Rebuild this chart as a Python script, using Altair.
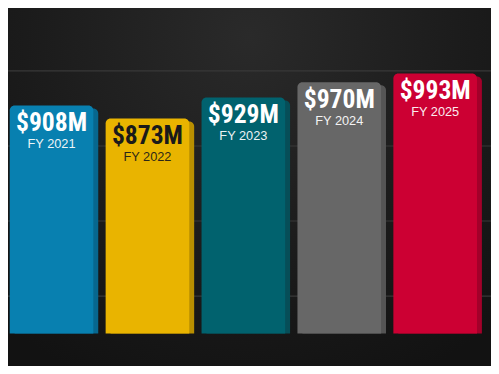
import altair as alt
import pandas as pd

years = ["FY 2021", "FY 2022", "FY 2023", "FY 2024", "FY 2025"]
values = [908, 873, 929, 970, 993]
labels = ["$908M", "$873M", "$929M", "$970M", "$993M"]
face_colors = ["#0880B0", "#E9B400", "#01626E", "#676767", "#CC0033"]
shadow_colors = ["#07678F", "#B98F00", "#064E58", "#555555", "#A3002A"]
text_colors = ["#FFFFFF", "#1A1A1A", "#FFFFFF", "#FFFFFF", "#FFFFFF"]
grid_values = [400, 600, 800, 1000]
y_min, y_max = 300, 1160

df = pd.DataFrame({
    "year": years, "value": values, "label": labels,
    "face": face_colors, "shadow": shadow_colors, "tc": text_colors,
    "base": [y_min] * len(years),
})
grid_df = pd.DataFrame({"g": grid_values})

xs = alt.X("year:N", sort=years, axis=None,
           scale=alt.Scale(paddingInner=0, paddingOuter=0, range=[-2, 485.5]))
ys = alt.Scale(domain=[y_min, y_max], zero=False, nice=False)

bg = alt.Chart(df).mark_rect(
    color=alt.Gradient(gradient="radial", x1=0.5, y1=0.2, r1=0.0,
                       x2=0.5, y2=0.2, r2=0.75,
                       stops=[alt.GradientStop(color="#2a2a2a", offset=0),
                              alt.GradientStop(color="#1c1c1c", offset=0.55),
                              alt.GradientStop(color="#121212", offset=1)])
).encode(x=alt.value(-10), x2=alt.value(500), y=alt.value(-10), y2=alt.value(370))

grid = alt.Chart(grid_df).mark_rule(color="#383838", strokeWidth=1.2).encode(
    y=alt.Y("g:Q", scale=ys, axis=None), x=alt.value(-3), x2=alt.value(491))

shadow = alt.Chart(df).mark_bar(width=85, xOffset=2.5, yOffset=3, y2Offset=0,
                                cornerRadiusTopLeft=5, cornerRadiusTopRight=5).encode(
    x=xs, y=alt.Y("value:Q", scale=ys, axis=None), y2="base:Q",
    color=alt.Color("shadow:N", scale=None))

face = alt.Chart(df).mark_bar(width=85, xOffset=-2.5,
                              cornerRadiusTopLeft=5, cornerRadiusTopRight=5).encode(
    x=xs, y=alt.Y("value:Q", scale=ys, axis=None), y2="base:Q",
    color=alt.Color("face:N", scale=None))

val_text = alt.Chart(df).mark_text(
    font="Roboto Condensed, Liberation Sans Narrow, DejaVu Sans Condensed, sans-serif",
    fontWeight="bold", fontSize=26, baseline="alphabetic", align="center",
    dy=26, xOffset=-2.5).encode(
    x=xs, y=alt.Y("value:Q", scale=ys, axis=None), text="label:N",
    color=alt.Color("tc:N", scale=None))

yr_text = alt.Chart(df).mark_text(
    font="Liberation Sans, Arial, sans-serif", fontSize=13,
    baseline="alphabetic", align="center", dy=43, xOffset=-2.5, opacity=0.92).encode(
    x=xs, y=alt.Y("value:Q", scale=ys, axis=None), text="year:N",
    color=alt.Color("tc:N", scale=None))

chart = alt.layer(bg, grid, shadow, face, val_text, yr_text).properties(
    width=484, height=328,
    padding={"left": 0, "top": 0, "right": 7, "bottom": 30},
    autosize=alt.AutoSizeParams(type="none"),
    background="#141414",
).configure_view(stroke=None)

chart.save("out.html", embed_options={"renderer": "svg", "actions": False})
